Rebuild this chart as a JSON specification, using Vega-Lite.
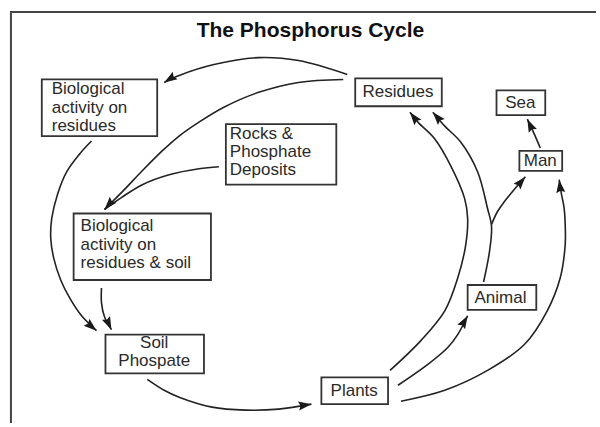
{
  "$schema": "https://vega.github.io/schema/vega-lite/v6.json",
  "width": 600,
  "height": 427,
  "autosize": {"type": "fit", "contains": "padding"},
  "padding": 0,
  "background": "white",
  "config": {"view": {"stroke": null}},
  "datasets": {
    "frame": [
      {"i": 0, "x": 11, "y": 426},
      {"i": 1, "x": 11, "y": 12},
      {"i": 2, "x": 599, "y": 12}
    ],
    "arrows": [
      {"a": "A", "i": 0, "x": 349, "y": 75}, {"a": "A", "i": 1, "x": 300, "y": 61}, {"a": "A", "i": 2, "x": 260, "y": 58}, {"a": "A", "i": 3, "x": 215, "y": 65}, {"a": "A", "i": 4, "x": 180, "y": 76}, {"a": "A", "i": 5, "x": 165, "y": 83},
      {"a": "B", "i": 0, "x": 345, "y": 80}, {"a": "B", "i": 1, "x": 300, "y": 83}, {"a": "B", "i": 2, "x": 260, "y": 93}, {"a": "B", "i": 3, "x": 225, "y": 108}, {"a": "B", "i": 4, "x": 200, "y": 123}, {"a": "B", "i": 5, "x": 180, "y": 137}, {"a": "B", "i": 6, "x": 163, "y": 152}, {"a": "B", "i": 7, "x": 143, "y": 172}, {"a": "B", "i": 8, "x": 123, "y": 193}, {"a": "B", "i": 9, "x": 105, "y": 211},
      {"a": "R", "i": 0, "x": 220, "y": 168}, {"a": "R", "i": 1, "x": 200, "y": 170}, {"a": "R", "i": 2, "x": 170, "y": 176}, {"a": "R", "i": 3, "x": 143, "y": 186}, {"a": "R", "i": 4, "x": 122, "y": 199}, {"a": "R", "i": 5, "x": 105, "y": 211},
      {"a": "C", "i": 0, "x": 92, "y": 142}, {"a": "C", "i": 1, "x": 80, "y": 155}, {"a": "C", "i": 2, "x": 67, "y": 173}, {"a": "C", "i": 3, "x": 58, "y": 195}, {"a": "C", "i": 4, "x": 52, "y": 220}, {"a": "C", "i": 5, "x": 51, "y": 240}, {"a": "C", "i": 6, "x": 54, "y": 260}, {"a": "C", "i": 7, "x": 61, "y": 282}, {"a": "C", "i": 8, "x": 70, "y": 300}, {"a": "C", "i": 9, "x": 82, "y": 318}, {"a": "C", "i": 10, "x": 97, "y": 333},
      {"a": "D", "i": 0, "x": 102, "y": 290}, {"a": "D", "i": 1, "x": 102, "y": 305}, {"a": "D", "i": 2, "x": 105, "y": 319}, {"a": "D", "i": 3, "x": 112, "y": 332},
      {"a": "E", "i": 0, "x": 148, "y": 382}, {"a": "E", "i": 1, "x": 165, "y": 393}, {"a": "E", "i": 2, "x": 180, "y": 400}, {"a": "E", "i": 3, "x": 213, "y": 410}, {"a": "E", "i": 4, "x": 247, "y": 413}, {"a": "E", "i": 5, "x": 280, "y": 412}, {"a": "E", "i": 6, "x": 313, "y": 407},
      {"a": "F", "i": 0, "x": 392, "y": 373}, {"a": "F", "i": 1, "x": 423, "y": 343}, {"a": "F", "i": 2, "x": 447, "y": 313}, {"a": "F", "i": 3, "x": 460, "y": 280}, {"a": "F", "i": 4, "x": 468, "y": 247}, {"a": "F", "i": 5, "x": 470, "y": 220}, {"a": "F", "i": 6, "x": 467, "y": 200}, {"a": "F", "i": 7, "x": 453, "y": 167}, {"a": "F", "i": 8, "x": 437, "y": 140}, {"a": "F", "i": 9, "x": 420, "y": 123}, {"a": "F", "i": 10, "x": 412, "y": 113},
      {"a": "G", "i": 0, "x": 486, "y": 284}, {"a": "G", "i": 1, "x": 492, "y": 253}, {"a": "G", "i": 2, "x": 494, "y": 228}, {"a": "G", "i": 3, "x": 490, "y": 210}, {"a": "G", "i": 4, "x": 480, "y": 173}, {"a": "G", "i": 5, "x": 463, "y": 143}, {"a": "G", "i": 6, "x": 447, "y": 127}, {"a": "G", "i": 7, "x": 435, "y": 113},
      {"a": "M", "i": 0, "x": 494, "y": 226}, {"a": "M", "i": 1, "x": 500, "y": 213}, {"a": "M", "i": 2, "x": 507, "y": 203}, {"a": "M", "i": 3, "x": 520, "y": 187}, {"a": "M", "i": 4, "x": 528, "y": 178},
      {"a": "H", "i": 0, "x": 400, "y": 388}, {"a": "H", "i": 1, "x": 430, "y": 367}, {"a": "H", "i": 2, "x": 450, "y": 350}, {"a": "H", "i": 3, "x": 460, "y": 337}, {"a": "H", "i": 4, "x": 470, "y": 318},
      {"a": "I", "i": 0, "x": 403, "y": 404}, {"a": "I", "i": 1, "x": 447, "y": 393}, {"a": "I", "i": 2, "x": 490, "y": 373}, {"a": "I", "i": 3, "x": 527, "y": 347}, {"a": "I", "i": 4, "x": 550, "y": 313}, {"a": "I", "i": 5, "x": 563, "y": 280}, {"a": "I", "i": 6, "x": 568, "y": 247}, {"a": "I", "i": 7, "x": 568, "y": 225}, {"a": "I", "i": 8, "x": 567, "y": 210}, {"a": "I", "i": 9, "x": 564, "y": 194}, {"a": "I", "i": 10, "x": 562, "y": 181},
      {"a": "J", "i": 0, "x": 543, "y": 149}, {"a": "J", "i": 1, "x": 537, "y": 135}, {"a": "J", "i": 2, "x": 530, "y": 120}
    ],
    "heads": [
      {"a": "A", "x": 165, "y": 83, "angle": 238},
      {"a": "B", "x": 105, "y": 211, "angle": 222},
      {"a": "C", "x": 97, "y": 333, "angle": 130},
      {"a": "D", "x": 112, "y": 332, "angle": 155},
      {"a": "E", "x": 313, "y": 407, "angle": 82},
      {"a": "F", "x": 412, "y": 113, "angle": -38},
      {"a": "G", "x": 435, "y": 113, "angle": -41},
      {"a": "M", "x": 528, "y": 178, "angle": 40},
      {"a": "H", "x": 470, "y": 318, "angle": 30},
      {"a": "I", "x": 562, "y": 181, "angle": -7},
      {"a": "J", "x": 530, "y": 120, "angle": -25}
    ],
    "boxes": [
      {"name": "Biological activity on residues", "x": 42, "x2": 158, "y": 80, "y2": 137},
      {"name": "Residues", "x": 357, "x2": 444, "y": 79, "y2": 107},
      {"name": "Sea", "x": 499, "x2": 548, "y": 91, "y2": 116},
      {"name": "Rocks & Phosphate Deposits", "x": 227, "x2": 338, "y": 125, "y2": 186},
      {"name": "Biological activity on residues & soil", "x": 74, "x2": 212, "y": 215, "y2": 282},
      {"name": "Man", "x": 522, "x2": 565, "y": 152, "y2": 172},
      {"name": "Animal", "x": 470, "x2": 539, "y": 287, "y2": 312},
      {"name": "Soil Phospate", "x": 106, "x2": 205, "y": 337, "y2": 376},
      {"name": "Plants", "x": 323, "x2": 390, "y": 380, "y2": 407}
    ],
    "leftText": [
      {"t": "Biological", "x": 52, "y": 95},
      {"t": "activity on", "x": 52, "y": 113.5},
      {"t": "residues", "x": 52, "y": 132},
      {"t": "Rocks &", "x": 231, "y": 140},
      {"t": "Phosphate", "x": 231, "y": 158},
      {"t": "Deposits", "x": 231, "y": 176},
      {"t": "Biological", "x": 81, "y": 233},
      {"t": "activity on", "x": 81, "y": 251.5},
      {"t": "residues & soil", "x": 81, "y": 270}
    ],
    "centerText": [
      {"t": "Residues", "x": 400, "y": 98},
      {"t": "Sea", "x": 523, "y": 109},
      {"t": "Man", "x": 543, "y": 167},
      {"t": "Animal", "x": 503, "y": 305},
      {"t": "Plants", "x": 356, "y": 399},
      {"t": "Soil", "x": 155, "y": 350},
      {"t": "Phospate", "x": 155, "y": 369}
    ],
    "title": [
      {"t": "The Phosphorus Cycle", "x": 312, "y": 37}
    ]
  },
  "layer": [
    {
      "data": {"name": "frame"},
      "mark": {"type": "line", "stroke": "#444", "strokeWidth": 2},
      "encoding": {
        "x": {"field": "x", "type": "quantitative", "scale": {"domain": [0, 600], "nice": false, "zero": false}, "axis": null},
        "y": {"field": "y", "type": "quantitative", "scale": {"domain": [0, 427], "nice": false, "zero": false, "reverse": true}, "axis": null},
        "order": {"field": "i", "type": "quantitative"}
      }
    },
    {
      "data": {"name": "arrows"},
      "mark": {"type": "line", "interpolate": "catmull-rom", "stroke": "#222", "strokeWidth": 1.6},
      "encoding": {
        "x": {"field": "x", "type": "quantitative", "scale": {"domain": [0, 600], "nice": false, "zero": false}, "axis": null},
        "y": {"field": "y", "type": "quantitative", "scale": {"domain": [0, 427], "nice": false, "zero": false, "reverse": true}, "axis": null},
        "detail": {"field": "a", "type": "nominal"},
        "order": {"field": "i", "type": "quantitative"}
      }
    },
    {
      "data": {"name": "heads"},
      "mark": {"type": "point", "shape": "M0,0L-4.5,13L0,11L4.5,13Z", "filled": true, "fill": "#1a1a1a", "size": 4, "opacity": 1, "strokeWidth": 0},
      "encoding": {
        "x": {"field": "x", "type": "quantitative", "scale": {"domain": [0, 600], "nice": false, "zero": false}, "axis": null},
        "y": {"field": "y", "type": "quantitative", "scale": {"domain": [0, 427], "nice": false, "zero": false, "reverse": true}, "axis": null},
        "angle": {"field": "angle", "type": "quantitative", "scale": null}
      }
    },
    {
      "data": {"name": "boxes"},
      "mark": {"type": "rect", "fill": "white", "stroke": "#333", "strokeWidth": 1.8},
      "encoding": {
        "x": {"field": "x", "type": "quantitative", "scale": {"domain": [0, 600], "nice": false, "zero": false}, "axis": null},
        "x2": {"field": "x2"},
        "y": {"field": "y", "type": "quantitative", "scale": {"domain": [0, 427], "nice": false, "zero": false, "reverse": true}, "axis": null},
        "y2": {"field": "y2"}
      }
    },
    {
      "data": {"name": "leftText"},
      "mark": {"type": "text", "align": "left", "baseline": "alphabetic", "font": "Liberation Sans", "fontSize": 17, "fill": "#2a2a2a"},
      "encoding": {
        "x": {"field": "x", "type": "quantitative", "scale": {"domain": [0, 600], "nice": false, "zero": false}, "axis": null},
        "y": {"field": "y", "type": "quantitative", "scale": {"domain": [0, 427], "nice": false, "zero": false, "reverse": true}, "axis": null},
        "text": {"field": "t", "type": "nominal"}
      }
    },
    {
      "data": {"name": "centerText"},
      "mark": {"type": "text", "align": "center", "baseline": "alphabetic", "font": "Liberation Sans", "fontSize": 17, "fill": "#2a2a2a"},
      "encoding": {
        "x": {"field": "x", "type": "quantitative", "scale": {"domain": [0, 600], "nice": false, "zero": false}, "axis": null},
        "y": {"field": "y", "type": "quantitative", "scale": {"domain": [0, 427], "nice": false, "zero": false, "reverse": true}, "axis": null},
        "text": {"field": "t", "type": "nominal"}
      }
    },
    {
      "data": {"name": "title"},
      "mark": {"type": "text", "align": "center", "baseline": "alphabetic", "font": "Liberation Sans", "fontSize": 21, "fontWeight": "bold", "fill": "#111"},
      "encoding": {
        "x": {"field": "x", "type": "quantitative", "scale": {"domain": [0, 600], "nice": false, "zero": false}, "axis": null},
        "y": {"field": "y", "type": "quantitative", "scale": {"domain": [0, 427], "nice": false, "zero": false, "reverse": true}, "axis": null},
        "text": {"field": "t", "type": "nominal"}
      }
    }
  ]
}
